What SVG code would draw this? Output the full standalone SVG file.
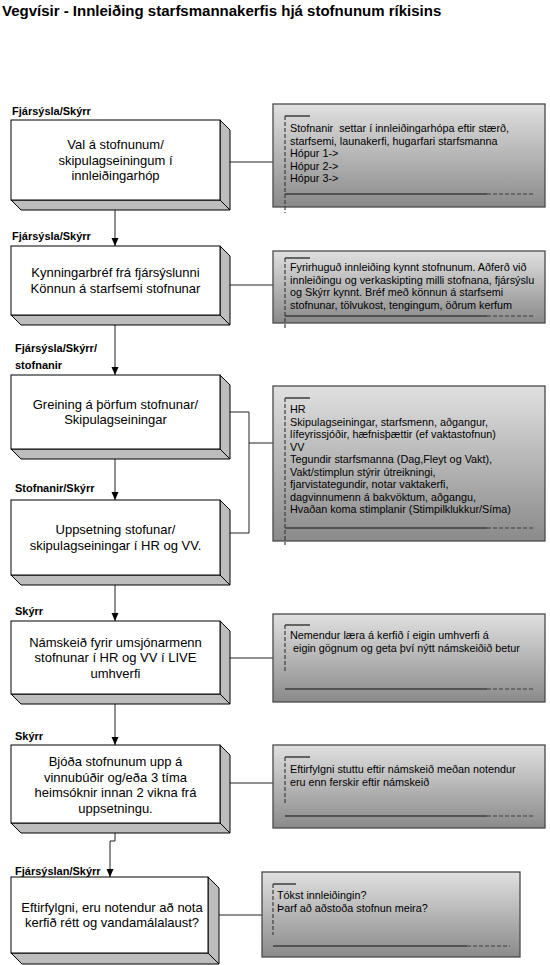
<svg xmlns="http://www.w3.org/2000/svg" width="550" height="965" viewBox="0 0 550 965">
<style>
.title{font-family:"Liberation Sans",Arial,sans-serif;font-size:15px;font-weight:bold;fill:#000}
.lbl{font-family:"Liberation Sans",Arial,sans-serif;font-size:11px;font-weight:bold;fill:#000}
.bt{font-family:"Liberation Sans",Arial,sans-serif;font-size:13px;fill:#000;text-anchor:middle}
.nt{font-family:"Liberation Sans",Arial,sans-serif;font-size:10.8px;fill:#000}
.front{fill:#fff;stroke:#000;stroke-width:1}
.side{fill:#bdbdbd;stroke:#000;stroke-width:1}
.note{fill:url(#ng);stroke:#4a4a4a;stroke-width:1.3}
.dec{stroke:#3c3c3c;stroke-width:1.5;fill:none}
.dash{stroke:#3c3c3c;stroke-width:1.2;fill:none;stroke-dasharray:4,2}
.conn{stroke:#222;stroke-width:1;fill:none}
</style>
<defs>
<linearGradient id="ng" x1="0" y1="0" x2="0" y2="1">
<stop offset="0" stop-color="#e0e0e0"/>
<stop offset="1" stop-color="#8a8a8a"/>
</linearGradient>
<marker id="ar" markerWidth="8" markerHeight="8" refX="8" refY="4" orient="auto" markerUnits="userSpaceOnUse">
<path d="M0,0.5 L8,4 L0,7.5 Z" fill="#000"/>
</marker>
</defs>
<rect width="550" height="965" fill="#fff"/>
<text class="title" x="2" y="16">Vegvísir - Innleiðing starfsmannakerfis hjá stofnunum ríkisins</text>

<g id="connectors">
<line class="conn" x1="115" y1="210" x2="115" y2="246" marker-end="url(#ar)"/>
<line class="conn" x1="115" y1="325" x2="115" y2="375" marker-end="url(#ar)"/>
<line class="conn" x1="115" y1="459" x2="115" y2="500" marker-end="url(#ar)"/>
<line class="conn" x1="115" y1="585" x2="115" y2="621" marker-end="url(#ar)"/>
<line class="conn" x1="115" y1="704" x2="115" y2="745" marker-end="url(#ar)"/>
<polyline class="conn" points="115,833 115,841 110,841 110,877" marker-end="url(#ar)"/>
<line class="conn" x1="230" y1="162" x2="273" y2="162"/>
<line class="conn" x1="230" y1="285" x2="273" y2="285"/>
<polyline class="conn" points="230,412 249,412 249,533 230,533"/>
<line class="conn" x1="249" y1="443" x2="273" y2="443"/>
<line class="conn" x1="230" y1="658" x2="273" y2="658"/>
<line class="conn" x1="230" y1="783" x2="273" y2="783"/>
<line class="conn" x1="219" y1="915" x2="262" y2="915"/>
</g>

<g id="step1">
<text class="lbl" x="12" y="115">Fjársýsla/Skýrr</text>
<polygon class="side" points="220,120 230,130 230,210 220,200"/>
<polygon class="side" points="11,200 220,200 230,210 21,210"/>
<rect class="front" x="11" y="120" width="209" height="80"/>
<text class="bt" x="115.5" y="149">Val á stofnunum/</text>
<text class="bt" x="115.5" y="164.5">skipulagseiningum í</text>
<text class="bt" x="115.5" y="180">innleiðingarhóp</text>
</g>

<g id="note1">
<rect class="note" x="273" y="104" width="272" height="103"/>
<line class="dec" x1="285" y1="116" x2="310" y2="116"/>
<line class="dash" x1="285" y1="116" x2="285" y2="213"/>
<line class="dec" x1="285" y1="194" x2="487" y2="194"/>
<line class="dash" x1="487" y1="194" x2="533" y2="194"/>
<text class="nt" x="290" y="132" xml:space="preserve">Stofnanir  settar í innleiðingarhópa eftir stærð,</text>
<text class="nt" x="290" y="144.5">starfsemi, launakerfi, hugarfari starfsmanna</text>
<text class="nt" x="290" y="157">Hópur 1-&gt;</text>
<text class="nt" x="290" y="169.5">Hópur 2-&gt;</text>
<text class="nt" x="290" y="182">Hópur 3-&gt;</text>
</g>

<g id="step2">
<text class="lbl" x="12" y="240">Fjársýsla/Skýrr</text>
<polygon class="side" points="220,246 230,256 230,325 220,315"/>
<polygon class="side" points="11,315 220,315 230,325 21,325"/>
<rect class="front" x="11" y="246" width="209" height="69"/>
<text class="bt" x="115.5" y="277">Kynningarbréf frá fjársýslunni</text>
<text class="bt" x="115.5" y="293">Könnun á starfsemi stofnunar</text>
</g>

<g id="note2">
<rect class="note" x="273" y="251" width="272" height="72"/>
<line class="dec" x1="285" y1="258" x2="310" y2="258"/>
<line class="dash" x1="285" y1="258" x2="285" y2="330"/>
<line class="dec" x1="285" y1="316" x2="487" y2="316"/>
<line class="dash" x1="487" y1="316" x2="533" y2="316"/>
<text class="nt" x="290" y="271">Fyrirhuguð innleiðing kynnt stofnunum. Aðferð við</text>
<text class="nt" x="290" y="283.5">innleiðingu og verkaskipting milli stofnana, fjársýslu</text>
<text class="nt" x="290" y="296">og Skýrr kynnt. Bréf með könnun á starfsemi</text>
<text class="nt" x="290" y="308.5">stofnunar, tölvukost, tengingum, öðrum kerfum</text>
</g>

<g id="step3">
<text class="lbl" x="15" y="352">Fjársýsla/Skýrr/</text>
<text class="lbl" x="15" y="369">stofnanir</text>
<polygon class="side" points="220,375 230,385 230,459 220,449"/>
<polygon class="side" points="11,449 220,449 230,459 21,459"/>
<rect class="front" x="11" y="375" width="209" height="74"/>
<text class="bt" x="115.5" y="408.5">Greining á þörfum stofnunar/</text>
<text class="bt" x="115.5" y="424">Skipulagseiningar</text>
</g>

<g id="step4">
<text class="lbl" x="15" y="492">Stofnanir/Skýrr</text>
<polygon class="side" points="220,500 230,510 230,585 220,575"/>
<polygon class="side" points="11,575 220,575 230,585 21,585"/>
<rect class="front" x="11" y="500" width="209" height="75"/>
<text class="bt" x="115.5" y="534">Uppsetning stofunar/</text>
<text class="bt" x="115.5" y="550">skipulagseiningar í HR og VV.</text>
</g>

<g id="note3">
<rect class="note" x="273" y="386" width="272" height="155"/>
<line class="dec" x1="285" y1="398" x2="310" y2="398"/>
<line class="dash" x1="285" y1="398" x2="285" y2="545"/>
<line class="dec" x1="285" y1="528" x2="487" y2="528"/>
<line class="dash" x1="487" y1="528" x2="533" y2="528"/>
<text class="nt" x="290" y="413">HR</text>
<text class="nt" x="290" y="425.5">Skipulagseiningar, starfsmenn, aðgangur,</text>
<text class="nt" x="290" y="438">lífeyrissjóðir, hæfnisþættir (ef vaktastofnun)</text>
<text class="nt" x="290" y="450.5">VV</text>
<text class="nt" x="290" y="463">Tegundir starfsmanna (Dag,Fleyt og Vakt),</text>
<text class="nt" x="290" y="475.5">Vakt/stimplun stýrir útreikningi,</text>
<text class="nt" x="290" y="488">fjarvistategundir, notar vaktakerfi,</text>
<text class="nt" x="290" y="500.5">dagvinnumenn á bakvöktum, aðgangu,</text>
<text class="nt" x="290" y="513">Hvaðan koma stimplanir (Stimpilklukkur/Síma)</text>
</g>

<g id="step5">
<text class="lbl" x="15" y="615">Skýrr</text>
<polygon class="side" points="220,621 230,631 230,704 220,694"/>
<polygon class="side" points="11,694 220,694 230,704 21,704"/>
<rect class="front" x="11" y="621" width="209" height="73"/>
<text class="bt" x="115.5" y="646.5">Námskeið fyrir umsjónarmenn</text>
<text class="bt" x="115.5" y="662">stofnunar í HR og VV í LIVE</text>
<text class="bt" x="115.5" y="677.5">umhverfi</text>
</g>

<g id="note4">
<rect class="note" x="273" y="614" width="272" height="88"/>
<line class="dec" x1="285" y1="625" x2="310" y2="625"/>
<line class="dash" x1="285" y1="625" x2="285" y2="673"/>
<line class="dec" x1="285" y1="689" x2="487" y2="689"/>
<line class="dash" x1="487" y1="689" x2="533" y2="689"/>
<text class="nt" x="290" y="639">Nemendur læra á kerfið í eigin umhverfi á</text>
<text class="nt" x="290" y="651.5" xml:space="preserve"> eigin gögnum og geta því nýtt námskeiðið betur</text>
</g>

<g id="step6">
<text class="lbl" x="15" y="740">Skýrr</text>
<polygon class="side" points="220,745 230,755 230,833 220,823"/>
<polygon class="side" points="11,823 220,823 230,833 21,833"/>
<rect class="front" x="11" y="745" width="209" height="78"/>
<text class="bt" x="115.5" y="766">Bjóða stofnunum upp á</text>
<text class="bt" x="115.5" y="781.5">vinnubúðir og/eða 3 tíma</text>
<text class="bt" x="115.5" y="797">heimsóknir innan 2 vikna frá</text>
<text class="bt" x="115.5" y="812.5">uppsetningu.</text>
</g>

<g id="note5">
<rect class="note" x="273" y="745" width="272" height="83"/>
<line class="dec" x1="285" y1="757" x2="310" y2="757"/>
<line class="dash" x1="285" y1="757" x2="285" y2="805"/>
<line class="dec" x1="285" y1="816" x2="487" y2="816"/>
<line class="dash" x1="487" y1="816" x2="533" y2="816"/>
<text class="nt" x="290" y="773">Eftirfylgni stuttu eftir námskeið meðan notendur</text>
<text class="nt" x="290" y="785.5">eru enn ferskir eftir námskeið</text>
</g>

<g id="step7">
<text class="lbl" x="15" y="875">Fjársýslan/Skýrr</text>
<polygon class="side" points="208,877 219,888 219,964 208,953"/>
<polygon class="side" points="11,953 208,953 219,964 22,964"/>
<rect class="front" x="11" y="877" width="197" height="76"/>
<text class="bt" x="112" y="911.5">Eftirfylgni, eru notendur að nota</text>
<text class="bt" x="112" y="927">kerfið rétt og vandamálalaust?</text>
</g>

<g id="note6">
<rect class="note" x="262" y="872" width="258" height="85"/>
<line class="dec" x1="273" y1="884" x2="296" y2="884"/>
<line class="dash" x1="273" y1="884" x2="273" y2="935"/>
<line class="dec" x1="273" y1="946" x2="467" y2="946"/>
<line class="dash" x1="467" y1="946" x2="510" y2="946"/>
<text class="nt" x="277" y="899">Tókst innleiðingin?</text>
<text class="nt" x="277" y="911.5">Þarf að aðstoða stofnun meira?</text>
</g>
</svg>
